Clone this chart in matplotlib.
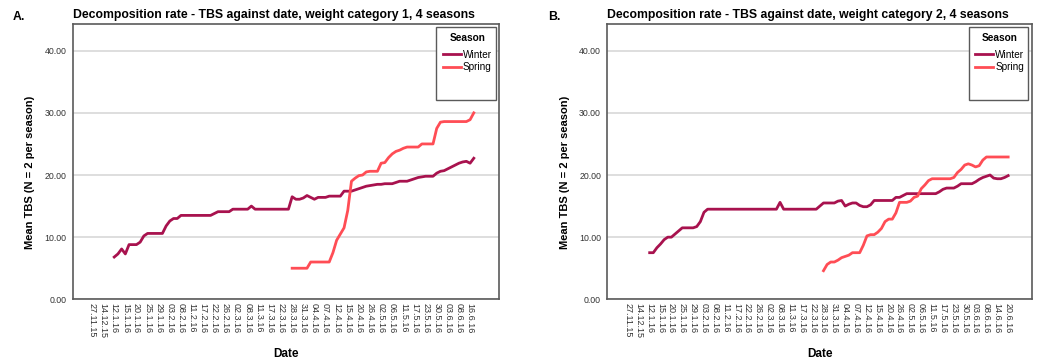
import numpy as np
import matplotlib
matplotlib.use('Agg')
import matplotlib.pyplot as plt
from matplotlib.patches import Rectangle

plt.rcParams['font.family'] = ['Liberation Sans', 'DejaVu Sans']

nan = np.nan

# Tick labels (one labelled date every third category on the SPSS axis)
labels_a = ['27.11.15', '14.12.15', '12.1.16', '15.1.16', '20.1.16', '25.1.16', '29.1.16',
            '03.2.16', '08.2.16', '11.2.16', '17.2.16', '22.2.16', '26.2.16', '02.3.16',
            '08.3.16', '11.3.16', '17.3.16', '22.3.16', '28.3.16', '31.3.16', '04.4.16',
            '07.4.16', '12.4.16', '15.4.16', '20.4.16', '26.4.16', '02.5.16', '06.5.16',
            '11.5.16', '17.5.16', '23.5.16', '30.5.16', '03.6.16', '08.6.16', '16.6.16']
labels_b = labels_a[:-1] + ['14.6.16', '20.6.16']

# Weight category 1: mean TBS per date category (NaN = no data for that season)
winter_a = [nan] * 6 + [
    6.8, 7.3, 8.1, 7.3, 8.8, 8.8, 8.8, 9.2, 10.2, 10.6,
    10.6, 10.6, 10.6, 10.6, 11.8, 12.6, 13.0, 13.0, 13.5, 13.5,
    13.5, 13.5, 13.5, 13.5, 13.5, 13.5, 13.5, 13.8, 14.1, 14.1,
    14.1, 14.1, 14.5, 14.5, 14.5, 14.5, 14.5, 15.0, 14.5,
    14.5, 14.5, 14.5, 14.5, 14.5, 14.5, 14.5, 14.5, 14.5,
    16.5, 16.1, 16.1, 16.3, 16.7, 16.4, 16.1, 16.4, 16.4, 16.4,
    16.6, 16.6, 16.6, 16.6, 17.4, 17.4, 17.4, 17.6, 17.8, 18.0,
    18.2, 18.3, 18.4, 18.5, 18.5, 18.6, 18.6, 18.6, 18.8, 19.0,
    19.0, 19.0, 19.2, 19.4, 19.6, 19.7, 19.8, 19.8, 19.8, 20.3,
    20.6, 20.7, 21.0, 21.3, 21.6, 21.9, 22.1, 22.2, 21.9, 22.7]
spring_a = [nan] * 54 + [
    5.0, 5.0, 5.0, 5.0, 5.0, 6.0, 6.0, 6.0, 6.0, 6.0,
    6.0, 7.5, 9.5, 10.5, 11.5, 14.3, 19.0, 19.5, 19.9, 20.0,
    20.5, 20.6, 20.6, 20.6, 21.9, 22.0, 22.8, 23.4, 23.8, 24.0,
    24.3, 24.5, 24.5, 24.5, 24.5, 25.0, 25.0, 25.0, 25.0, 27.5,
    28.5, 28.6, 28.6, 28.6, 28.6, 28.6, 28.6, 28.6, 28.9, 30.0]

# Weight category 2
winter_b = [nan] * 6 + [
    7.5, 7.5, 8.3, 8.9, 9.6, 10.0, 10.0, 10.5, 11.0, 11.5,
    11.5, 11.5, 11.5, 11.7, 12.5, 14.0,
    14.5, 14.5, 14.5, 14.5, 14.5, 14.5, 14.5, 14.5, 14.5, 14.5,
    14.5, 14.5, 14.5, 14.5, 14.5, 14.5, 14.5, 14.5, 14.5, 14.5,
    15.6,
    14.5, 14.5, 14.5, 14.5, 14.5, 14.5, 14.5, 14.5, 14.5, 14.5,
    15.0, 15.5, 15.5, 15.5, 15.5, 15.8, 15.9, 15.0, 15.3, 15.5,
    15.5, 15.1, 14.9, 14.9, 15.2, 15.9,
    15.9, 15.9, 15.9, 15.9, 15.9, 16.4, 16.4, 16.7,
    17.0, 17.0, 17.0, 17.0, 17.0, 17.0, 17.0, 17.0, 17.0,
    17.3, 17.7, 17.9, 17.9, 17.9, 18.2, 18.6, 18.6, 18.6, 18.6,
    18.9, 19.3, 19.6, 19.8, 20.0, 19.5, 19.4, 19.4, 19.6, 19.9]
spring_b = [nan] * 54 + [
    4.6, 5.6, 6.0, 6.0, 6.3, 6.7, 6.9, 7.1, 7.5, 7.5,
    7.5, 8.7, 10.2, 10.4, 10.4, 10.8, 11.4, 12.5, 12.9, 12.9,
    13.9, 15.6, 15.6, 15.6, 15.8, 16.4, 16.6, 17.8, 18.4, 19.1,
    19.4, 19.4, 19.4, 19.4, 19.4, 19.4, 19.6, 20.4, 20.9, 21.6,
    21.8, 21.6, 21.3, 21.5, 22.4, 22.9, 22.9, 22.9, 22.9, 22.9,
    22.9, 22.9]

winter_color = '#a8124e'
spring_color = '#ff4d55'
frame_color = '#5a5a5a'


def draw_panel(ax, letter, title, labels, winter, spring, xlim):
    x_w = np.arange(len(winter))
    x_s = np.arange(len(spring))
    ax.plot(x_w, winter, color=winter_color, lw=2.0, solid_joinstyle='round', label='Winter')
    ax.plot(x_s, spring, color=spring_color, lw=2.0, solid_joinstyle='round', label='Spring')

    ax.set_xlim(*xlim)
    ax.set_ylim(0, 44.3)
    ax.set_yticks([0, 10, 20, 30, 40])
    ax.set_yticklabels(['%.2f' % v for v in [0, 10, 20, 30, 40]])
    ax.yaxis.grid(True, color='#d4d4d4', lw=1.1)
    ax.set_axisbelow(True)

    ax.set_xticks(np.arange(len(labels)) * 3)
    ax.set_xticklabels(labels, rotation=-90, fontsize=6.5, color='#333333')
    ax.tick_params(axis='both', length=0)
    ax.tick_params(axis='y', labelsize=6.3, labelcolor='#333333', pad=4.5)
    ax.tick_params(axis='x', pad=3)

    for sp in ax.spines.values():
        sp.set_color(frame_color)
        sp.set_linewidth(1.2)

    ax.set_ylabel('Mean TBS (N = 2 per season)', fontsize=8.0, fontweight='bold')
    ax.yaxis.set_label_coords(-0.088, 0.46)
    ax.set_xlabel('Date', fontsize=8.5, fontweight='bold', va='center')
    ax.xaxis.set_label_coords(0.5, -0.2)

    ax.set_title(title, fontsize=8.8, fontweight='bold', loc='left', pad=4)
    ax.text(-0.14, 1.005, letter, transform=ax.transAxes, fontsize=8.8,
            fontweight='bold', va='bottom')

    # legend box, taller than its content like in SPSS output
    ax.add_patch(Rectangle((0.852, 0.725), 0.14, 0.263, transform=ax.transAxes,
                           fill=True, facecolor='white', edgecolor=frame_color,
                           lw=1.0, zorder=5))
    leg = ax.legend(loc='upper right', bbox_to_anchor=(0.997, 0.99), frameon=False,
                    title='Season', fontsize=7.2, handlelength=1.8, handletextpad=0.2,
                    labelspacing=0.25, borderaxespad=0.2)
    leg.get_title().set_fontweight('bold')
    leg.get_title().set_fontsize(7.3)
    leg._legend_box.sep = 5
    leg.set_zorder(6)


fig = plt.figure(figsize=(10.39, 3.6), dpi=100)
ax_a = fig.add_axes([72.7 / 1039, 1 - 299.3 / 360, 426.3 / 1039, 275.3 / 360])
ax_b = fig.add_axes([607.3 / 1039, 1 - 299.3 / 360, 424.4 / 1039, 275.3 / 360])

draw_panel(ax_a, 'A.', 'Decomposition rate - TBS against date, weight category 1, 4 seasons',
           labels_a, winter_a, spring_a, (-5.2, 109.8))
draw_panel(ax_b, 'B.', 'Decomposition rate - TBS against date, weight category 2, 4 seasons',
           labels_b, winter_b, spring_b, (-5.7, 111.5))

fig.savefig('out.png', dpi=100, facecolor='white')
